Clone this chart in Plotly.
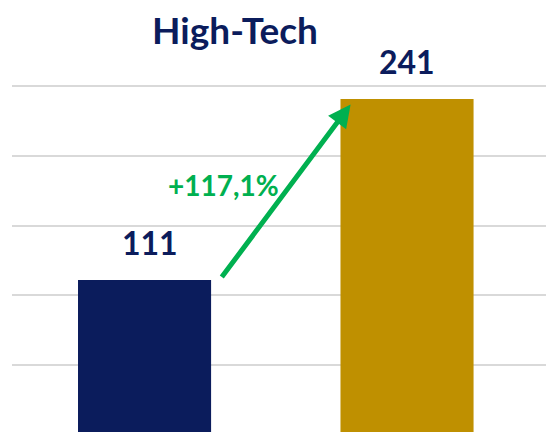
import plotly.graph_objects as go

categories = ["A", "B"]
values = [111, 241]
colors = ["#0B1C5C", "#BF9000"]
title_text = "High-Tech"
grid_vals = [50, 100, 150, 200, 250]

pct = (values[1] / values[0] - 1) * 100
pct_text = "+" + f"{pct:.1f}".replace(".", ",") + "%"

fig = go.Figure()
fig.add_trace(go.Bar(x=[0, 1], y=values, marker=dict(color=colors, line=dict(width=0)),
                     width=0.507, hoverinfo="skip"))

font = "Lato, 'Open Sans', sans-serif"
# value labels
for i, v in enumerate(values):
    fig.add_annotation(x=i, y=v, text=f"<b>{v}</b>", showarrow=False, yanchor="bottom",
                       yshift=16, xshift=(5 if i == 0 else 0),
                       font=dict(family=font, size=32, color="#0B1C5C"))

# arrow
fig.add_annotation(x=1 - 0.215, y=values[1] - 4, ax=0.29, ay=values[0] + 1,
                   xref="x", yref="y", axref="x", ayref="y", text="",
                   showarrow=True, arrowhead=2, arrowsize=0.9, arrowwidth=5,
                   arrowcolor="#00B050")
fig.add_annotation(x=0.30, y=(values[0] + values[1]) / 2 + 3, text=f"<b>{pct_text}</b>",
                   showarrow=False, font=dict(family=font, size=28, color="#00B050"))

fig.update_layout(
    width=546, height=432,
    margin=dict(l=12, r=0, t=60, b=0),
    paper_bgcolor="white", plot_bgcolor="white",
    showlegend=False,
    title=dict(text=f"<b>{title_text}</b>", x=235 / 546, xanchor="center", y=1 - 31 / 432,
               yanchor="middle", font=dict(family=font, size=37, color="#0B1C5C")),
    xaxis=dict(range=[-0.505, 1.5295], showticklabels=False, showgrid=False,
               zeroline=False, showline=False, fixedrange=True),
    yaxis=dict(range=[1.8, 269], tickvals=grid_vals, showticklabels=False, showgrid=True,
               gridcolor="#D9D9D9", gridwidth=2, zeroline=False, showline=False,
               fixedrange=True),
)
fig.write_html("out.html", config={"displayModeBar": False},
               post_script="document.body.style.margin='0';document.body.style.overflow='hidden';")
